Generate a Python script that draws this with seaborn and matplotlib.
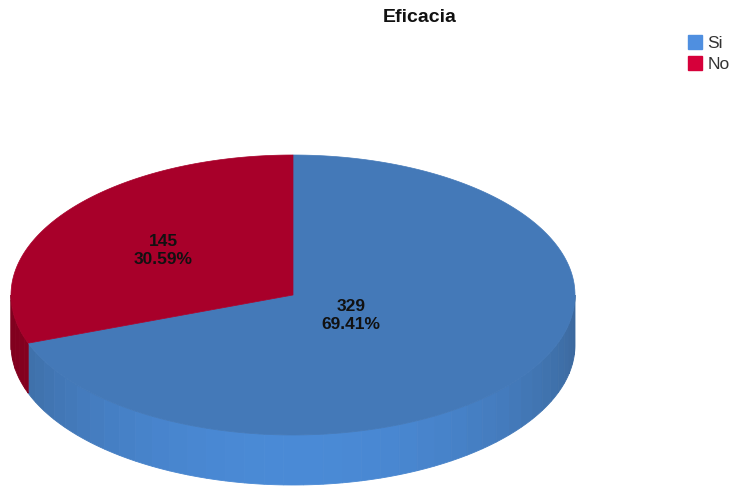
import numpy as np
import seaborn as sns
import matplotlib.pyplot as plt
from matplotlib.patches import Polygon, Patch

# DATOS
categories = ["Si", "No"]
counts = [329, 145]
top_colors = ["#4479b8", "#a8002a"]
legend_colors = ["#4f8fe0", "#d6003a"]
side_light = [(74, 138, 214), (150, 0, 38)]
side_dark = [(60, 105, 158), (128, 0, 30)]
label_factor = [0.25, 0.56]
title = "Eficacia"

sns.set_style("white")
plt.rcParams['font.family'] = ['Liberation Sans', 'DejaVu Sans']

W, H = 731, 486
fig = plt.figure(figsize=(W / 100, H / 100), dpi=100)
ax = fig.add_axes([0, 0, 1, 1])
ax.set_xlim(0, W)
ax.set_ylim(H, 0)
ax.axis("off")

# geometría del pastel 3D
cx, cy, rx, ry, depth = 293, 295, 282, 140, 50


def pt(t, dz=0):
    r = np.radians(t)
    return cx + rx * np.cos(r), cy - ry * np.sin(r) + dz


total = sum(counts)
spans = []
start = 90.0
for v in counts:
    end = start - v / total * 360
    spans.append((end, start))
    start = end

# caras laterales (solo la parte delantera)
for i, (a, b) in enumerate(spans):
    breaks = list(np.arange(a, b, 4.0)) + [b]
    for k in range(int(np.ceil(a / 180)), int(np.floor(b / 180)) + 1):
        breaks.append(k * 180.0)
    breaks = sorted(set(breaks))
    for t0, t1 in zip(breaks[:-1], breaks[1:]):
        mid = np.radians((t0 + t1) / 2)
        if np.sin(mid) >= 0:
            continue
        s = (-np.sin(mid)) ** 1.5
        col = [(side_dark[i][c] + (side_light[i][c] - side_dark[i][c]) * s) / 255 for c in range(3)]
        ts = np.linspace(t0, t1, 6)
        upper = [pt(t) for t in ts]
        lower = [pt(t, depth) for t in ts[::-1]]
        ax.add_patch(Polygon(upper + lower, closed=True, facecolor=col, edgecolor=col, lw=0.6))

# caras superiores
for i, (a, b) in enumerate(spans):
    ts = np.linspace(a, b, 200)
    verts = [(cx, cy)] + [pt(t) for t in ts]
    ax.add_patch(Polygon(verts, closed=True, facecolor=top_colors[i], edgecolor=top_colors[i], lw=0.5))

# etiquetas
for i, (a, b) in enumerate(spans):
    m = np.radians((a + b) / 2)
    f = label_factor[i]
    x = cx + f * rx * np.cos(m)
    y = cy - f * ry * np.sin(m)
    pct = counts[i] / total * 100
    ax.text(x, y, f"{counts[i]}\n{pct:.2f}%", ha="center", va="center",
            fontsize=12.5, fontweight="bold", color="#111111", linespacing=1.25)

fig.text(420 / W, 1 - 17 / H, title, ha="center", va="center",
         fontsize=14, fontweight="bold", color="#111111")

handles = [Patch(facecolor=c, edgecolor=c) for c in legend_colors]
fig.legend(handles, categories, loc="upper left", bbox_to_anchor=(688 / W, 1 - 35 / H),
           frameon=False, fontsize=12.5, handlelength=0.82, handleheight=0.85,
           handletextpad=0.3, labelspacing=0.32, borderpad=0, borderaxespad=0,
           labelcolor="#333333")

fig.savefig("out.png", dpi=100)
